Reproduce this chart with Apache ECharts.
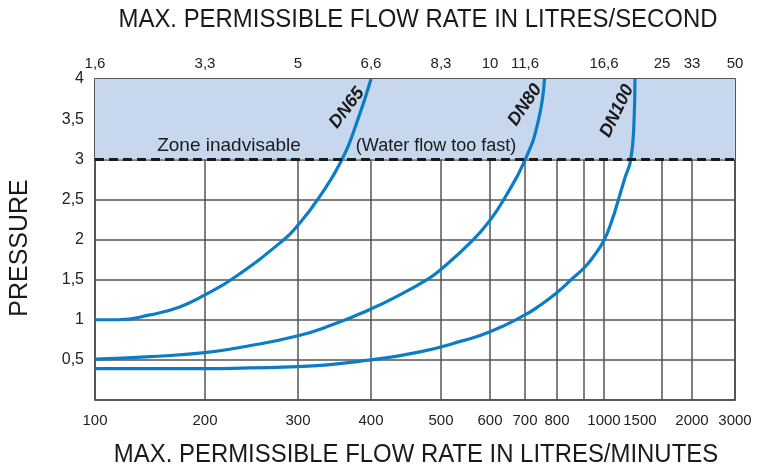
<!DOCTYPE html>
<html>
<head>
<meta charset="utf-8">
<script src="https://cdn.jsdelivr.net/npm/echarts@6/dist/echarts.min.js"></script>
<style>
  html, body { margin: 0; padding: 0; background: #fff; }
  #chart { width: 761px; height: 468px; }
</style>
</head>
<body>
<div id="chart"></div>
<script>
// flow axis is neither linear nor log in the original: each tick sits where the
// drawing puts it, so we map l/min onto a 0..100 axis piecewise
var flowTicks = [100, 200, 300, 400, 500, 600, 700, 800, 900, 1000, 1500, 2000, 3000];
var tickSpot = [0, 17.19, 31.72, 43.13, 54.06, 61.72, 67.19, 72.19, 76.41, 79.53, 88.59, 93.28, 100];

// bottom labels (l/min); 1500 is printed left of its line in the original
var bottomLabelFlows = [100, 200, 300, 400, 500, 600, 700, 800, 1000, 1310, 2000, 3000];
var bottomLabels = ['100', '200', '300', '400', '500', '600', '700', '800', '1000', '1500', '2000', '3000'];
// top labels (l/s)
var topLabelFlows = [100, 200, 300, 400, 500, 600, 700, 1000, 1500, 2000, 3000];
var topLabels = ['1,6', '3,3', '5', '6,6', '8,3', '10', '11,6', '16,6', '25', '33', '50'];

// pressure curves
var dn65Flow = [100, 121, 150, 177, 200, 232, 284, 300, 327, 360, 381, 400];
var dn65Bar = [1.0, 1.0, 1.06, 1.16, 1.31, 1.53, 1.99, 2.18, 2.5, 2.99, 3.47, 4.0];
var dn80Flow = [100, 150, 200, 245, 300, 345, 399, 441, 480, 499, 563, 600, 637, 700, 741, 761];
var dn80Bar = [0.51, 0.54, 0.59, 0.67, 0.80, 0.93, 1.13, 1.31, 1.50, 1.62, 1.98, 2.24, 2.48, 2.99, 3.47, 4.0];
var dn100Flow = [100, 150, 200, 248, 300, 400, 470, 545, 600, 700, 747, 800, 859, 900, 945, 1000, 1069, 1121, 1181, 1230, 1259, 1267];
var dn100Bar = [0.39, 0.39, 0.39, 0.40, 0.415, 0.5, 0.6, 0.74, 0.85, 1.06, 1.18, 1.34, 1.52, 1.645, 1.78, 1.99, 2.24, 2.48, 2.77, 2.99, 3.47, 4.0];

var limitBar = 3;
var maxBar = 4;

function flowToAxis(q) {
  for (var i = 1; i < flowTicks.length; i++) {
    if (q <= flowTicks[i]) {
      var t = (q - flowTicks[i - 1]) / (flowTicks[i] - flowTicks[i - 1]);
      return tickSpot[i - 1] + t * (tickSpot[i] - tickSpot[i - 1]);
    }
  }
  return 100;
}

function pairs(flow, bar) {
  return flow.map(function (q, i) { return [flowToAxis(q), bar[i]]; });
}

function labelAt(flows, texts) {
  var pos = flows.map(flowToAxis);
  return function (v) {
    var best = 0;
    for (var i = 1; i < pos.length; i++) {
      if (Math.abs(pos[i] - v) < Math.abs(pos[best] - v)) best = i;
    }
    return texts[best];
  };
}

var blue = '#0b7dc6';
var gridColor = '#555';
var sans = '"Liberation Sans", Arial, sans-serif';

var chart = echarts.init(document.getElementById('chart'));

function curve(name, flow, bar) {
  return {
    name: name,
    type: 'line',
    data: pairs(flow, bar),
    smooth: 0.5,
    showSymbol: false,
    z: 3,
    lineStyle: { color: blue, width: 3.2 },
    silent: true
  };
}

function note(text, x, y, font, rot, sx) {
  return {
    type: 'text', x: x, y: y, z: 100,
    rotation: (rot || 0) * Math.PI / 180,
    scaleX: sx || 1,
    style: { text: text, font: font, fill: '#1a1a1a', align: 'center', verticalAlign: 'middle' }
  };
}

chart.setOption({
  animation: false,
  grid: {
    left: 95,
    right: 26,
    top: 79,
    bottom: 68,
    show: true,
    borderColor: '#222',
    borderWidth: 1.5,
    backgroundColor: 'transparent'
  },
  xAxis: [
    {
      type: 'value',
      position: 'bottom',
      min: 0,
      max: 100,
      axisLine: { show: false },
      axisTick: { show: false, customValues: flowTicks.map(flowToAxis) },
      splitLine: { show: true, lineStyle: { color: gridColor, width: 1.5 } },
      axisLabel: {
        customValues: bottomLabelFlows.map(flowToAxis),
        formatter: labelAt(bottomLabelFlows, bottomLabels),
        color: '#222',
        fontFamily: sans,
        fontSize: 15,
        margin: 13
      }
    },
    {
      type: 'value',
      position: 'top',
      min: 0,
      max: 100,
      axisLine: { show: false },
      axisTick: { show: false },
      splitLine: { show: false },
      axisLabel: {
        customValues: topLabelFlows.map(flowToAxis),
        formatter: labelAt(topLabelFlows, topLabels),
        color: '#222',
        fontFamily: sans,
        fontSize: 15,
        margin: 8
      }
    }
  ],
  yAxis: {
    type: 'value',
    min: 0,
    max: maxBar,
    interval: 0.5,
    axisLine: { show: false },
    axisTick: { show: false },
    splitLine: { show: true, lineStyle: { color: gridColor, width: 1.5 } },
    axisLabel: {
      color: '#222',
      fontFamily: sans,
      fontSize: 16,
      margin: 11,
      formatter: function (v) {
        return v === 0 ? '' : String(v).replace('.', ',');
      }
    }
  },
  series: [
    {
      // inadvisable zone, kept under the grid lines
      name: 'zone',
      type: 'line',
      data: [],
      z: -1,
      silent: true,
      markArea: {
        silent: true,
        itemStyle: { color: '#c6d7ee' },
        data: [[{ yAxis: limitBar }, { yAxis: maxBar }]]
      }
    },
    {
      name: 'limit',
      type: 'line',
      data: [],
      z: 1,
      silent: true,
      markLine: {
        silent: true,
        symbol: 'none',
        label: { show: false },
        lineStyle: { color: '#1a1a1a', width: 3, type: [9, 5] },
        data: [{ yAxis: limitBar }]
      }
    },
    curve('DN65', dn65Flow, dn65Bar),
    curve('DN80', dn80Flow, dn80Bar),
    curve('DN100', dn100Flow, dn100Bar)
  ],
  graphic: [
    note('MAX. PERMISSIBLE FLOW RATE IN LITRES/SECOND', 418, 20, '26px ' + sans, 0, 0.92),
    note('MAX. PERMISSIBLE FLOW RATE IN LITRES/MINUTES', 416, 455, '26px ' + sans, 0, 0.92),
    note('PRESSURE', 20, 248, '25px ' + sans, 90),
    note('Zone inadvisable', 229, 146, '19px ' + sans),
    note('(Water flow too fast)', 436, 146, '18px ' + sans),
    note('DN65', 347, 108, 'italic bold 18px ' + sans, 53),
    note('DN80', 525, 105, 'italic bold 18px ' + sans, 56),
    note('DN100', 617, 111, 'italic bold 18px ' + sans, 64)
  ]
});
</script>
</body>
</html>
